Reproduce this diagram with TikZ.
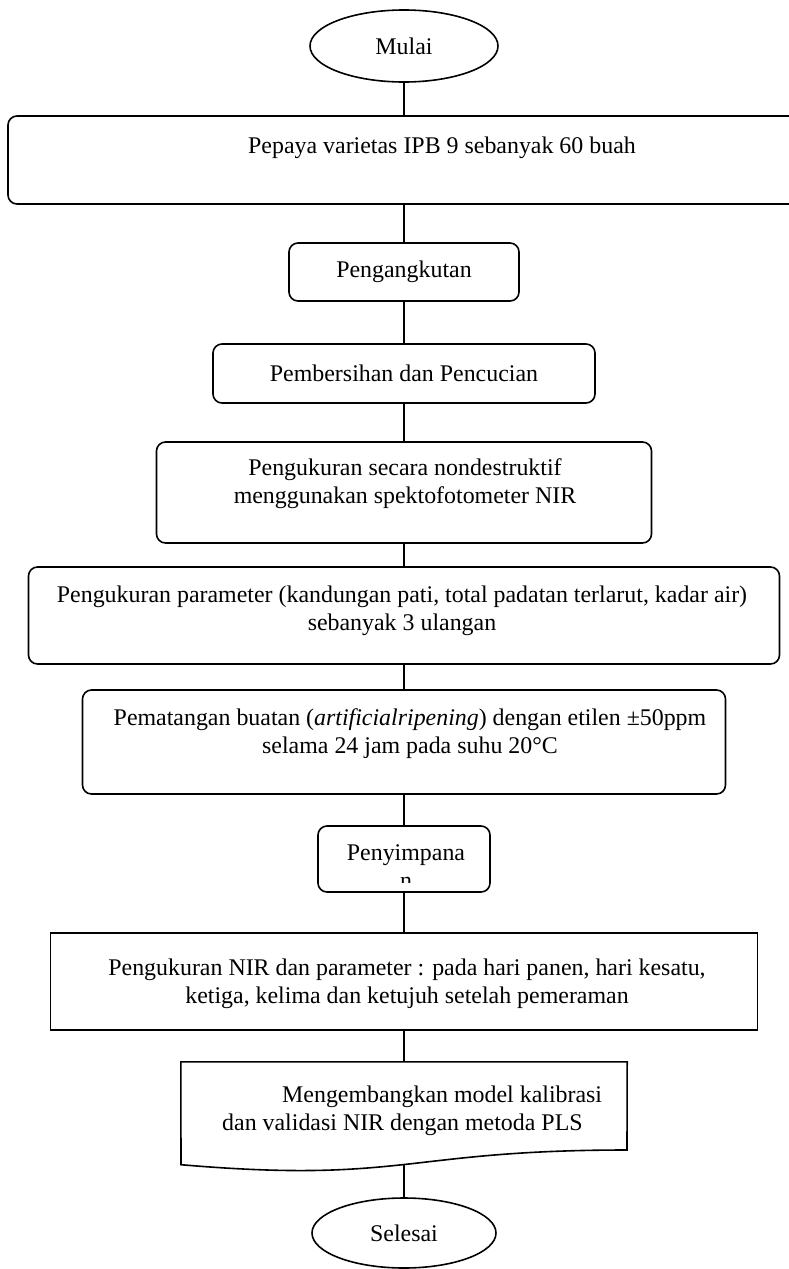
\documentclass[tikz,border=0pt]{standalone}
\usepackage{fontspec}
\setmainfont{Liberation Serif}
\usetikzlibrary{shapes.geometric}
\pgfdeclarelayer{bg}
\pgfsetlayers{bg,main}
\tikzset{
    every node/.style={inner sep=0mm, align=center, font=\fontsize{23.9}{28}\selectfont}
}
\tikzset{stepbox/.style={rectangle, draw, rounded corners=9pt, line width=1.6pt}}
\tikzset{flatbox/.style={rectangle, draw, line width=1.6pt}}
\tikzset{termbox/.style={ellipse, draw, line width=1.6pt}}
\tikzset{link/.style={line width=1.3pt}}

\begin{document}
\begin{tikzpicture}[x=1pt, y=-1pt]
        \useasboundingbox (0,0) rectangle (789,1269);
        \clip (0,0) rectangle (789,1269);
        \node (v0) [termbox, minimum width=188pt, minimum height=72pt] at (404, 46) {Mulai};
        \node (v1) [stepbox, minimum width=792pt, minimum height=88pt] at (404, 160) {};
        \node (t1) at (442, 148) {Pepaya varietas IPB 9 sebanyak 60 buah};
        \node (v2) [stepbox, minimum width=230pt, minimum height=58pt] at (404, 272) {Pengangkutan};
        \node (v3) [stepbox, minimum width=382pt, minimum height=59pt] at (404, 373.5) {Pembersihan dan Pencucian};
        \node (v4) [stepbox, minimum width=495pt, minimum height=101pt] at (404, 492.5) {};
        \node (t4) at (405, 483.5) {Pengukuran secara nondestruktif\\menggunakan spektofotometer NIR};
        \node (v5) [stepbox, minimum width=751pt, minimum height=97pt] at (404, 615.5) {};
        \node (t5) at (402, 610.5) {Pengukuran parameter (kandungan pati, total padatan terlarut, kadar air)\\sebanyak 3 ulangan};
        \node (v6) [stepbox, minimum width=643pt, minimum height=104pt] at (404, 742) {};
        \node (t6) at (410, 733.5) {Pematangan buatan (\textit{artificialripening}) dengan etilen ±50ppm\\selama 24 jam pada suhu 20°C};
        \node (v7) [stepbox, minimum width=172pt, minimum height=66pt] at (404, 859) {};
        \begin{scope}
                \clip (320, 820) rectangle (495, 882);
                \node (t7) at (406, 866.5) {Penyimpana\\n};
        \end{scope}
        \node (v8) [flatbox, minimum width=707pt, minimum height=97pt] at (404, 981.5) {};
        \node (t8) at (407, 983.5) {Pengukuran NIR dan parameter : pada hari panen, hari kesatu,\\ketiga, kelima dan ketujuh setelah pemeraman};
        \node (v9) [minimum width=446pt, minimum height=110pt] at (404, 1117) {};
        \draw [line width=1.6pt] (v9.north east) -- (v9.north west) -- (181, 1164.7)
                .. controls (404, 1183.8) and (404, 1150) .. (627, 1150) coordinate [pos=0.5] (w9) -- cycle;
        \node (t9) [anchor=west, align=left] at (222, 1111) {\hspace*{60pt}Mengembangkan model kalibrasi\\dan validasi NIR dengan metoda PLS};
        \node (v10) [termbox, minimum width=184pt, minimum height=70pt] at (404, 1233) {Selesai};
        \begin{pgfonlayer}{bg}
                \draw [link] (v0) edge (v1);
                \draw [link] (v1) edge (v2);
                \draw [link] (v2) edge (v3);
                \draw [link] (v3) edge (v4);
                \draw [link] (v4) edge (v5);
                \draw [link] (v5) edge (v6);
                \draw [link] (v6) edge (v7);
                \draw [link] (v7) edge (v8);
                \draw [link] (v8) edge (v9);
                \draw [link] (w9) edge (v10);
        \end{pgfonlayer}
\end{tikzpicture}
\end{document}
